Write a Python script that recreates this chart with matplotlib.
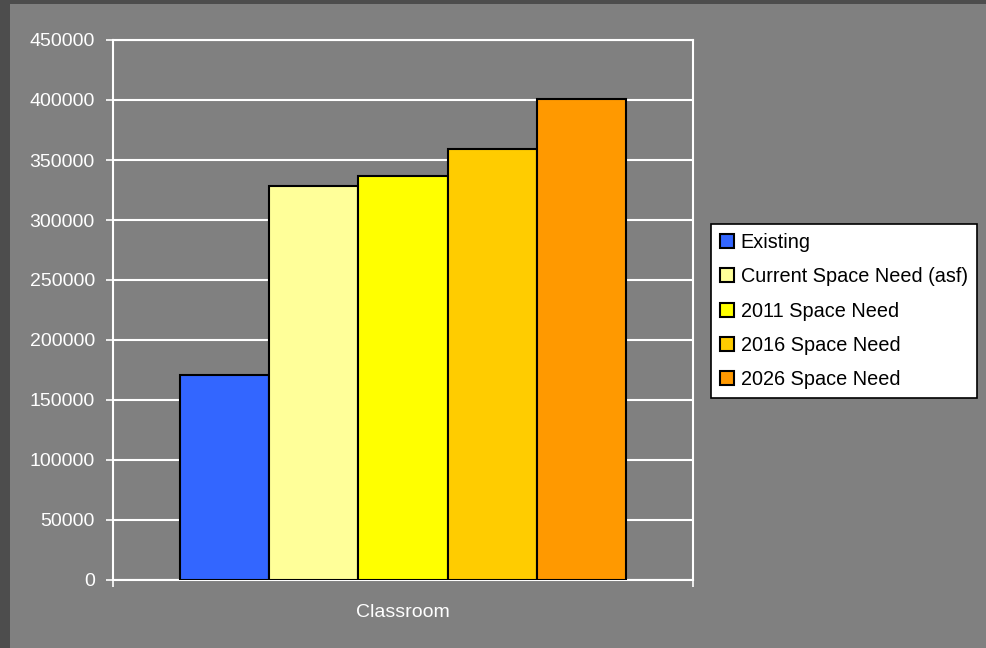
import matplotlib.pyplot as plt
import numpy as np

plt.rcParams["font.family"] = ["Liberation Sans", "DejaVu Sans"]

# space data for the classroom category
category = "Classroom"
series_names = [
    "Existing",
    "Current Space Need (asf)",
    "2011 Space Need",
    "2016 Space Need",
    "2026 Space Need",
]
series_values = [171000, 328000, 336500, 359500, 401000]
series_colors = ["#3366FF", "#FFFF99", "#FFFF00", "#FFCC00", "#FF9900"]
y_ticks = [0, 50000, 100000, 150000, 200000, 250000, 300000, 350000, 400000, 450000]

fig = plt.figure(figsize=(9.86, 6.48), dpi=100)
fig.patch.set_facecolor("#4d4d4d")

# inner grey panel
fig.add_artist(plt.Rectangle((10 / 986, 0), 976 / 986, 644 / 648,
                             transform=fig.transFigure, facecolor="#808080",
                             edgecolor="none", zorder=0))

ax = fig.add_axes([113 / 986, 68 / 648, 580 / 986, 540 / 648])
ax.set_facecolor("#808080")

group_width = 0.77
bar_w = group_width / len(series_values)
offsets = (np.arange(len(series_values)) - (len(series_values) - 1) / 2) * bar_w
for name, val, col, off in zip(series_names, series_values, series_colors, offsets):
    ax.bar(off, val, width=bar_w, color=col, edgecolor="black", linewidth=1.5,
           label=name, zorder=3)

ax.set_xlim(-0.5, 0.5)
ax.set_ylim(0, 450000)
ax.set_yticks(y_ticks)
ax.set_yticklabels([str(t) for t in y_ticks])
ax.set_xticks([-0.5, 0.5])
ax.set_xticklabels(["", ""])
ax.yaxis.grid(True, color="white", linewidth=1.5, zorder=1)
for s in ax.spines.values():
    s.set_color("white")
    s.set_linewidth(1.5)
ax.tick_params(axis="both", colors="white", length=5, width=1.2,
               labelsize=14, pad=8)
ax.text(0, -0.06, category, transform=ax.get_xaxis_transform(), ha="center",
        va="center", color="white", fontsize=14)

leg = fig.legend(loc="upper left", bbox_to_anchor=(711 / 986, 1 - 224 / 648),
                 frameon=True, fancybox=False, fontsize=14.3, handlelength=0.7,
                 handleheight=0.7, handletextpad=0.35, labelspacing=0.77,
                 borderpad=0.45, borderaxespad=0)
leg.get_frame().set_edgecolor("black")
leg.get_frame().set_linewidth(1.2)
leg.get_frame().set_facecolor("white")
leg.get_frame().set_alpha(1)

fig.savefig("out.png", dpi=100, facecolor=fig.get_facecolor())
